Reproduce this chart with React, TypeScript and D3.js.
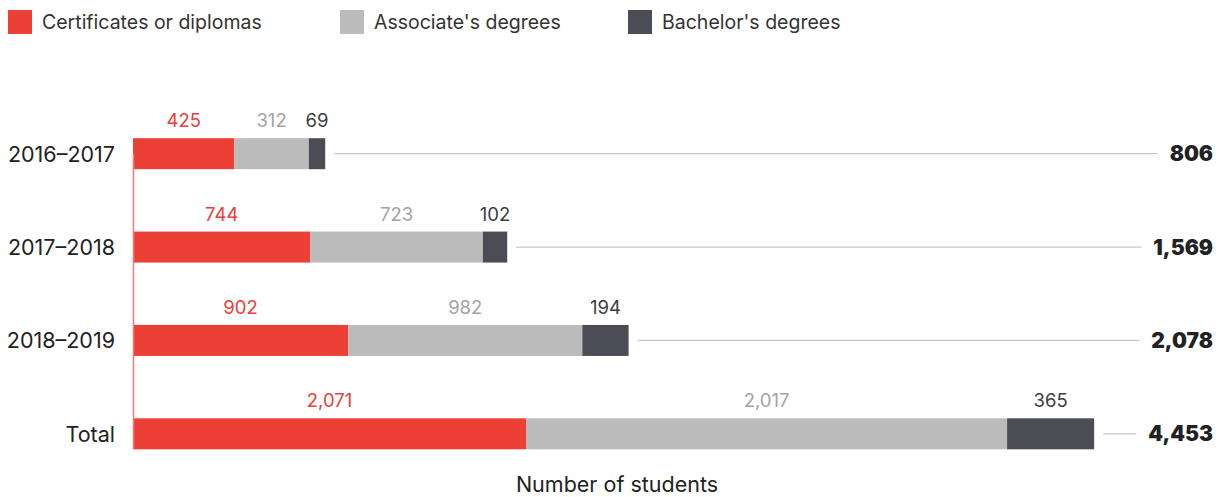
import * as d3 from "d3";
import {useEffect} from "react";

// values
const years = ["2016–2017", "2017–2018", "2018–2019", "Total"];
const certificates = [425, 744, 902, 2071];
const associates = [312, 723, 982, 2017];
const bachelors = [69, 102, 194, 365];
const totals = [806, 1569, 2078, 4453];
// in the source the Total row's red bar is drawn shorter than its label says
const certificatesBar = [425, 744, 902, 1648];

const legendItems = ["Certificates or diplomas", "Associate's degrees", "Bachelor's degrees"];
const colors = ["#ec3f35", "#bbbbbb", "#4c4c55"];
const labelColors = ["#e8403a", "#a3a3a3", "#3c3c42"];

const FONT = "Inter, 'Noto Sans', sans-serif";

const App = () => {

    useEffect(() => {
        document.body.style.margin = "0";
        buildGraph();
    }, []);

    const buildGraph = () => {
        const width = 1226, height = 497;

        const svg = d3.select("#chart")
            .append("svg")
            .attr("width", width)
            .attr("height", height)
            .style("display", "block")
            .style("font-family", FONT);

        const x = d3.scaleLinear()
            .domain([0, 1000])
            .range([133, 371.5]);

        const y = d3.scaleBand()
            .domain(years)
            .range([91.5, 496])
            .paddingInner(0.668)
            .paddingOuter(0.5);

        // legend
        const legendX = [8, 340, 628];
        const legend = svg.selectAll("g.legend")
            .data(legendItems)
            .join("g")
            .attr("transform", (d, i) => `translate(${legendX[i]}, 10)`);
        legend.append("rect")
            .attr("width", 24).attr("height", 24)
            .attr("fill", (d, i) => colors[i]);
        legend.append("text")
            .attr("x", 34).attr("y", 18.5)
            .attr("font-size", 19.5)
            .attr("fill", "#333")
            .text(d => d);

        const rows = years.map((year, i) => {
            const segs = [certificatesBar[i], associates[i], bachelors[i]];
            const labels = [certificates[i], associates[i], bachelors[i]];
            let acc = 0;
            return {
                year,
                total: totals[i],
                segs: segs.map((v, k) => {
                    const s = {x0: acc, x1: acc + v, label: labels[k], k};
                    acc += v;
                    return s;
                }),
                end: acc
            };
        });

        const row = svg.selectAll("g.row")
            .data(rows)
            .join("g")
            .attr("transform", d => `translate(0, ${y(d.year)})`);

        const bh = y.bandwidth();

        row.selectAll("rect")
            .data(d => d.segs)
            .join("rect")
            .attr("x", d => x(d.x0))
            .attr("width", d => x(d.x1) - x(d.x0))
            .attr("y", 0)
            .attr("height", bh)
            .attr("fill", d => colors[d.k]);

        row.selectAll("text.val")
            .data(d => d.segs)
            .join("text")
            .attr("class", "val")
            .attr("x", d => (x(d.x0) + x(d.x1)) / 2)
            .attr("y", -11)
            .attr("text-anchor", "middle")
            .attr("font-size", 18.5)
            .attr("fill", d => labelColors[d.k])
            .text(d => d3.format(",")(d.label));

        // row labels
        row.append("text")
            .attr("x", 115)
            .attr("y", bh / 2 + 8)
            .attr("text-anchor", "end")
            .attr("font-size", 21.5)
            .attr("fill", "#222")
            .text(d => d.year);

        // totals and leader lines
        row.append("text")
            .attr("class", "total")
            .attr("x", 1213)
            .attr("y", bh / 2 + 7.5)
            .attr("text-anchor", "end")
            .attr("font-size", 21)
            .attr("font-weight", 900)
            .attr("fill", "#222")
            .text(d => d3.format(",")(d.total));

        row.each(function (d) {
            const g = d3.select(this);
            const tw = (g.select("text.total").node() as SVGTextElement).getComputedTextLength();
            g.insert("line", "text.total")
                .attr("x1", x(d.end) + 9)
                .attr("x2", 1213 - tw - 12)
                .attr("y1", bh / 2)
                .attr("y2", bh / 2)
                .attr("stroke", "#c8c8c8")
                .attr("stroke-width", 1.2);
        });

        // red baseline
        svg.append("line")
            .attr("x1", 133.5).attr("x2", 133.5)
            .attr("y1", y(years[0])! + bh / 2)
            .attr("y2", y("Total")! + bh)
            .attr("stroke", "#f07a74")
            .attr("stroke-width", 1.5);

        svg.append("text")
            .attr("x", 617)
            .attr("y", 492)
            .attr("text-anchor", "middle")
            .attr("font-size", 21.5)
            .attr("fill", "#222")
            .text("Number of students");
    };

    return (<div id="chart"/>);
};

export default App;
